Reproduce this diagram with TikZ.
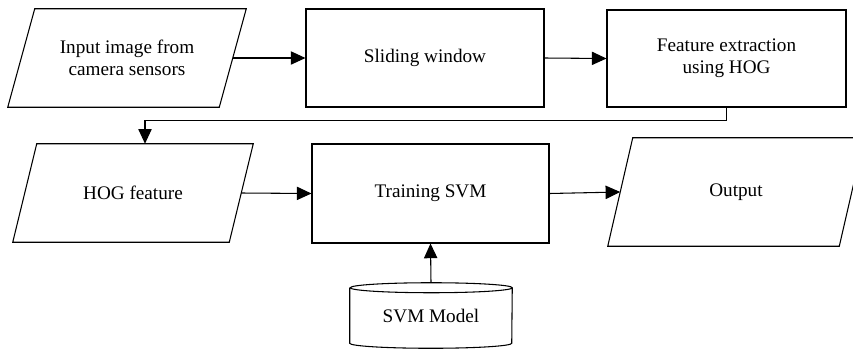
\documentclass[tikz,border=0pt]{standalone}
\usepackage{fontspec}
\setmainfont{Liberation Serif}
\usetikzlibrary{arrows.meta}
\newcommand{\paraedge}[2]{\draw[line width=0.8pt] (#1.south west) -- ([xshift=-#2]#1.south east) -- (#1.north east) -- ([xshift=#2]#1.north west) -- cycle;}
\begin{document}
\begin{tikzpicture}[x=0.75pt,y=-0.75pt,
    font=\fontsize{14.4}{16.5}\selectfont,
    proc/.style={draw,line width=0.8pt,rectangle,align=center,inner sep=0pt},
    data/.style={rectangle,align=center,inner sep=0pt},
    arr/.style={line width=0.8pt,-{Triangle[length=11pt,width=10pt]}}]
    \useasboundingbox (0,0) rectangle (853,351);
    \node[data,minimum width=178.5pt,minimum height=73.5pt] (input) at (127,58) {Input image from\\camera sensors};
    \node[proc,minimum width=178.5pt,minimum height=73.5pt] (slide) at (425,58) {Sliding window};
    \node[proc,minimum width=179.25pt,minimum height=72.75pt] (feat) at (726.5,58.5) {Feature extraction\\using HOG};
    \node[data,minimum width=180pt,minimum height=73.5pt] (hog) at (133,193) {HOG feature};
    \node[proc,minimum width=177.75pt,minimum height=74.25pt] (train) at (430.5,193.5) {Training SVM};
    \node[data,minimum width=192pt,minimum height=81pt] (out) at (736,192) {Output};
    \node[minimum width=121.5pt,minimum height=41.25pt,inner sep=0pt] (model) at (431,315.5) {SVM Model};
    \paraedge{input}{20.25pt}
    \paraedge{hog}{18pt}
    \paraedge{out}{18.75pt}
    \draw[line width=0.8pt] (model.north west) -- (model.south west)
        arc[start angle=180,end angle=360,x radius=60.75pt,y radius=3.75pt] -- (model.north east)
        arc[start angle=0,end angle=360,x radius=60.75pt,y radius=3.75pt];
    \draw[arr] ([xshift=-10.1pt]input.east) -- (slide.west);
    \draw[arr] (slide.east) -- (feat.west);
    \draw[arr] (feat.south) -- ++(0,13) -| ([xshift=9pt]hog.north);
    \draw[arr] ([xshift=-9pt]hog.east) -- (train.west);
    \draw[arr] (train.east) -- ([xshift=9.4pt]out.west);
    \draw[arr] ([yshift=3.75pt]model.north) -- (train.south);
\end{tikzpicture}
\end{document}
